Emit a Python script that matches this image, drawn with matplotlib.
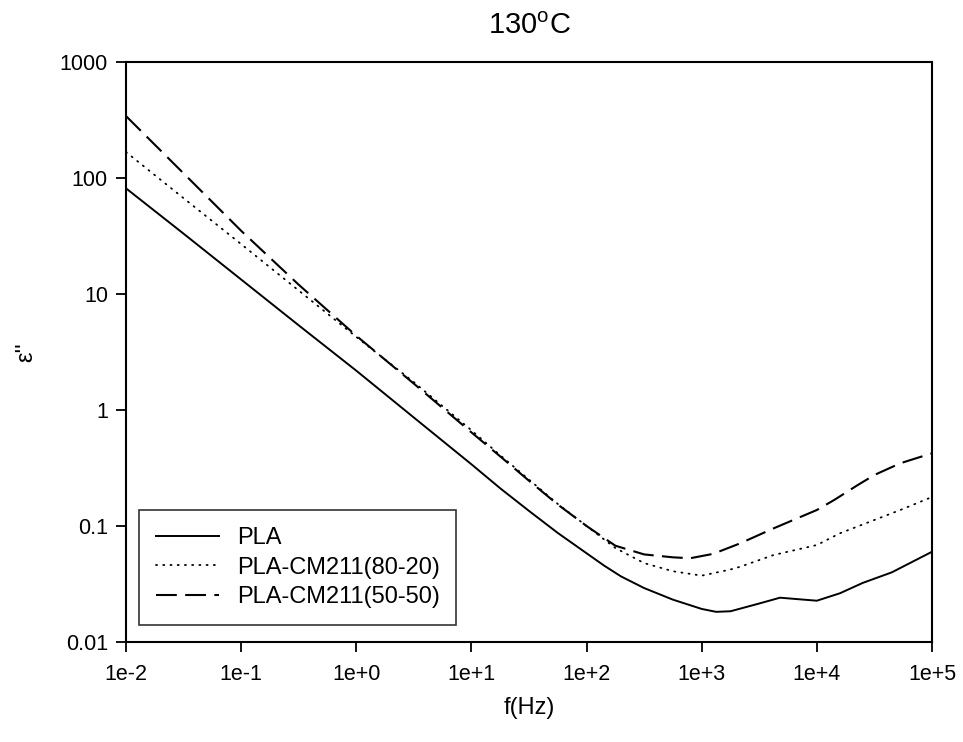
import matplotlib
matplotlib.use("Agg")
import matplotlib.pyplot as plt
import numpy as np

plt.rcParams['font.family'] = ['Liberation Sans', 'DejaVu Sans']
plt.rcParams['mathtext.fontset'] = 'custom'
plt.rcParams['mathtext.rm'] = 'Liberation Sans'

# log10 of frequency (Hz) and log10 of eps''
logf_pla = [-2, -1.5, -1, -0.5, 0, 0.5, 1, 1.25, 1.5, 1.75, 2, 2.15, 2.3, 2.5, 2.75,
            3, 3.125, 3.25, 3.5, 3.68, 3.85, 4, 4.2, 4.4, 4.65, 5]
loge_pla = [1.911, 1.52, 1.125, 0.73, 0.339, -0.065, -0.468, -0.675, -0.87, -1.06,
            -1.235, -1.34, -1.435, -1.535, -1.635, -1.715, -1.74, -1.735, -1.668,
            -1.618, -1.632, -1.644, -1.58, -1.49, -1.40, -1.222]

logf_8020 = [-2, -1.5, -1, -0.5, 0, 0.5, 1, 1.25, 1.5, 1.75, 2, 2.25, 2.5, 2.75,
             3, 3.25, 3.335, 3.625, 4, 4.2, 4.5, 4.725, 5]
loge_8020 = [2.224, 1.826, 1.43, 1.03, 0.63, 0.24, -0.175, -0.39, -0.60, -0.81,
             -1.0, -1.19, -1.32, -1.39, -1.428, -1.375, -1.351, -1.25, -1.164,
             -1.063, -0.948, -0.862, -0.75]

logf_5050 = [-2, -1.5, -1, -0.5, 0, 0.5, 1, 1.25, 1.5, 1.75, 2, 2.25, 2.5, 2.75,
             2.9, 3.1, 3.335, 3.625, 4, 4.15, 4.35, 4.5, 4.725, 5]
loge_5050 = [2.534, 2.04, 1.545, 1.08, 0.64, 0.227, -0.193, -0.40, -0.61, -0.815,
             -1.0, -1.17, -1.245, -1.27, -1.278, -1.24, -1.149, -1.02, -0.862,
             -0.776, -0.65, -0.560, -0.459, -0.373]

labels = ['PLA', 'PLA-CM211(80-20)', 'PLA-CM211(50-50)']
xticks = [1e-2, 1e-1, 1e0, 1e1, 1e2, 1e3, 1e4, 1e5]
xticklabels = ['1e-2', '1e-1', '1e+0', '1e+1', '1e+2', '1e+3', '1e+4', '1e+5']
yticks = [0.01, 0.1, 1, 10, 100, 1000]
yticklabels = ['0.01', '0.1', '1', '10', '100', '1000']

fig = plt.figure(figsize=(9.63, 7.42), dpi=100)
ax = fig.add_axes([126/963, 1-642/742, (932-126)/963, (642-62)/742])

ax.plot(10**np.array(logf_pla), 10**np.array(loge_pla), color='black', lw=1.4,
        ls='-', label=labels[0])
ax.plot(10**np.array(logf_8020), 10**np.array(loge_8020), color='black', lw=1.3,
        ls=(0, (0.6, 3.4)), dash_capstyle='round', label=labels[1])
ax.plot(10**np.array(logf_5050), 10**np.array(loge_5050), color='black', lw=1.5,
        ls=(0, (10, 4)), label=labels[2])

ax.set_xscale('log')
ax.set_yscale('log')
ax.set_xlim(1e-2, 1e5)
ax.set_ylim(0.01, 1000)
ax.set_xticks(xticks)
ax.set_xticklabels(xticklabels)
ax.set_yticks(yticks)
ax.set_yticklabels(yticklabels)
ax.minorticks_off()
ax.tick_params(direction='out', length=7, width=1.3, labelsize=15.5, pad=6,
               top=False, right=False)
ax.tick_params(axis='x', pad=9)
for s in ax.spines.values():
    s.set_linewidth(1.5)

ax.set_xlabel('f(Hz)', fontsize=17)
ax.xaxis.set_label_coords(0.5, -0.095)
ax.set_ylabel("ε''", fontsize=17)
ax.yaxis.set_label_coords(-0.11, 0.5)
ax.set_title('130$^{\\mathrm{o}}$C', fontsize=21, pad=20)

leg = ax.legend(loc='lower left', bbox_to_anchor=(13/806, 17/580), fontsize=17,
                frameon=True, fancybox=False, edgecolor='black', handlelength=2.7,
                handletextpad=0.75, borderpad=0.7, labelspacing=0.33,
                borderaxespad=0.0)
leg.get_frame().set_linewidth(1.2)

fig.savefig('out.png', dpi=100)
